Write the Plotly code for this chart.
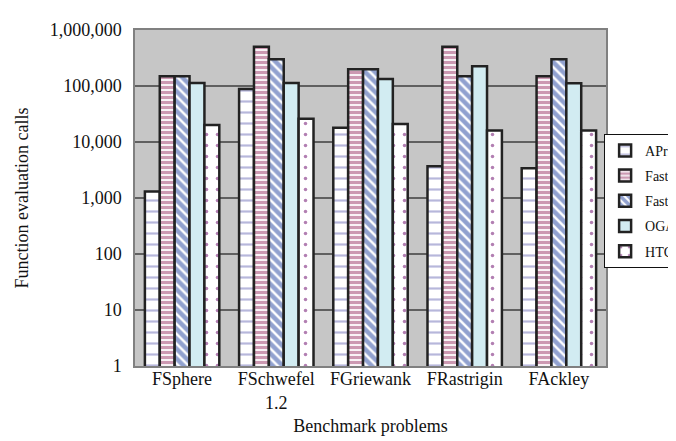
import plotly.graph_objects as go

categories = ["FSphere", "FSchwefel<br>1.2", "FGriewank", "FRastrigin", "FAckley"]
series_names = ["APrMF", "Fast EP", "Fast ES", "OGA/Q", "HTGA"]
aprmf = [1300, 88000, 18000, 3700, 3400]
fast_ep = [150000, 500000, 200000, 500000, 150000]
fast_es = [150000, 300000, 200000, 150000, 300000]
oga_q = [112559, 112612, 134000, 224710, 112421]
htga = [20115, 26000, 21000, 16000, 16000]
tick_vals = [1, 10, 100, 1000, 10000, 100000, 1000000]
tick_text = ["1", "10", "100", "1,000", "10,000", "100,000", "1,000,000"]

series_values = [aprmf, fast_ep, fast_es, oga_q, htga]
patterns = [
    dict(shape="-", fgcolor="#9999CC", bgcolor="white", size=11, solidity=0.2, fgopacity=0.7),
    dict(shape="-", fgcolor="#993366", bgcolor="white", size=5, solidity=0.65),
    dict(shape="\\", fgcolor="#2444A0", bgcolor="white", size=7, solidity=0.65),
    dict(shape="", fgcolor="#D2ECF2", bgcolor="#D2ECF2"),
    dict(shape=".", fgcolor="#660066", bgcolor="white", size=11, solidity=0.08),
]
colors = ["white", "white", "white", "#D2ECF2", "white"]

FONT = "Liberation Serif, Times New Roman, serif"

fig = go.Figure()
for i, (name, vals) in enumerate(zip(series_names, series_values)):
    fig.add_trace(go.Bar(
        x=categories, y=vals, name=name, legendgroup=name,
        marker=dict(color=colors[i], pattern=patterns[i],
                    line=dict(color="#222222", width=2.5)),
    ))

fig.update_layout(
    width=676, height=441,
    margin=dict(l=127, r=78, t=22, b=83, autoexpand=False),
    paper_bgcolor="white",
    plot_bgcolor="#C6C6C6",
    barmode="group", bargap=0.21, bargroupgap=0,
    font=dict(family=FONT, size=18, color="#111111"),
    showlegend=True,
    legend=dict(x=0.996, xanchor="left", y=0.691, yanchor="top",
                bgcolor="white", bordercolor="#111111", borderwidth=1,
                font=dict(family=FONT, size=14, color="#111111"),
                traceorder="grouped", tracegroupgap=4,
                itemwidth=30),
    xaxis=dict(
        title=dict(text="Benchmark problems", font=dict(size=18), standoff=8),
        showgrid=False, showline=True, linecolor="#808080", linewidth=1.5, mirror=True,
        ticks="", tickfont=dict(size=18), ticklabelstandoff=-4,
    ),
    yaxis=dict(
        type="log", range=[0, 6],
        tickvals=tick_vals, ticktext=tick_text,
        title=dict(text="Function evaluation calls", font=dict(size=18), standoff=16),
        showgrid=True, gridcolor="#606060", gridwidth=1.5,
        showline=True, linecolor="#808080", linewidth=1.5, mirror=True,
        ticks="", tickfont=dict(size=18), ticklabelstandoff=8,
    ),
)

fig.write_html("out.html")
